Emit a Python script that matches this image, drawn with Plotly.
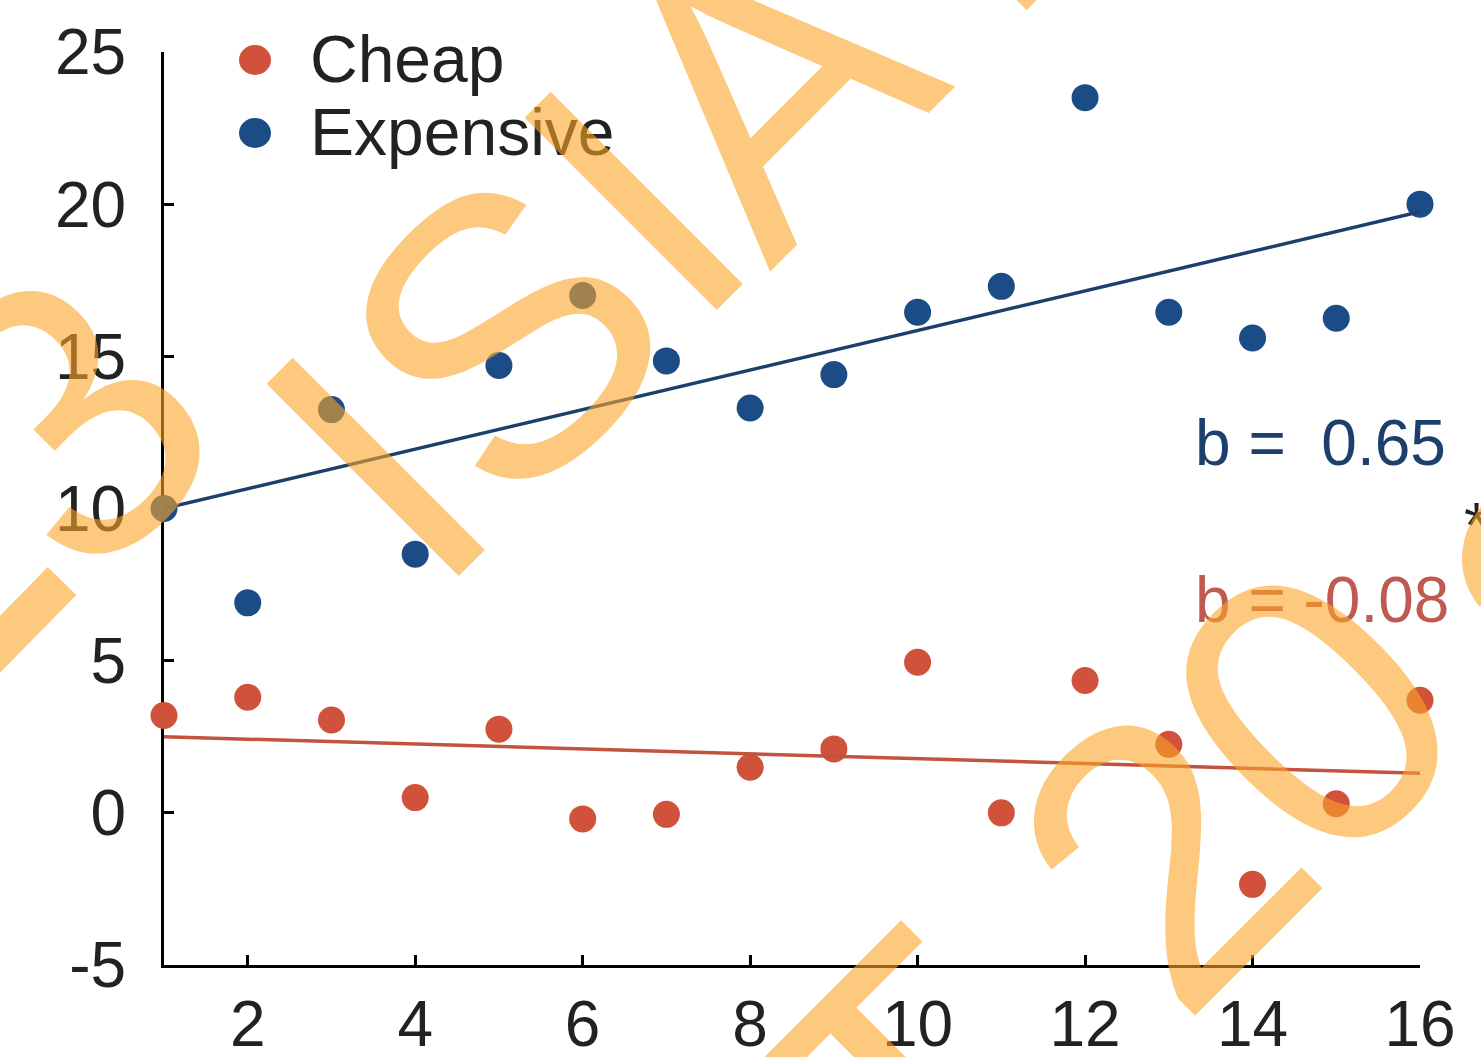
import plotly.graph_objects as go

# ---- data -------------------------------------------------------------
days = list(range(1, 17))
expensive = [10.0, 6.9, 13.25, 8.5, 14.7, 17.0, 14.85, 13.3, 14.4, 16.45,
             17.3, 23.5, 16.45, 15.6, 16.25, 20.0]
cheap = [3.2, 3.8, 3.05, 0.5, 2.75, -0.2, -0.05, 1.5, 2.1, 4.95,
         0.0, 4.35, 2.25, -2.35, 0.3, 3.7]

# fitted lines: value at the first day and slope b
exp_start, exp_slope = 10.0, 0.65
chp_start, chp_slope = 2.5, -0.08

x_ticks = [2, 4, 6, 8, 10, 12, 14, 16]
y_ticks = [-5, 0, 5, 10, 15, 20, 25]

BLUE = "#1c4c86"
BLUE_LINE = "#1d3f6c"
RED = "#d0523b"
RED_LINE = "#c2533f"
RED_TEXT = "#c05a50"
FONT = "Liberation Sans"

# ---- geometry helpers for paper-anchored decorations -----------------
W, H = 1481, 1057
ML, MR, MT, MB = 164, 61, 52, 92
PW, PH = W - ML - MR, H - MT - MB


def px(xp):
    return (xp - ML) / PW


def py(yp):
    return (H - MB - yp) / PH


fig = go.Figure()

fig.add_trace(go.Scatter(
    x=days, y=cheap, mode="markers", name="Cheap",
    marker=dict(color=RED, size=27), cliponaxis=False))
fig.add_trace(go.Scatter(
    x=days, y=expensive, mode="markers", name="Expensive",
    marker=dict(color=BLUE, size=27), cliponaxis=False))

x0, x1 = days[0], days[-1]
fig.add_trace(go.Scatter(
    x=[x0, x1], y=[exp_start, exp_start + exp_slope * (x1 - x0)],
    mode="lines", line=dict(color=BLUE_LINE, width=3.5),
    showlegend=False, cliponaxis=False))
fig.add_trace(go.Scatter(
    x=[x0, x1], y=[chp_start, chp_start + chp_slope * (x1 - x0)],
    mode="lines", line=dict(color=RED_LINE, width=3.5),
    showlegend=False, cliponaxis=False))

annotations = []
shapes = []

# legend drawn by hand so the rows sit close together
for name, color, yc in [("Cheap", RED, 60), ("Expensive", BLUE, 133)]:
    shapes.append(dict(type="circle", xref="paper", yref="paper",
                       x0=px(255 - 16), x1=px(255 + 16),
                       y0=py(yc + 15), y1=py(yc - 15),
                       fillcolor=color, line=dict(width=0)))
    annotations.append(dict(xref="paper", yref="paper", x=px(308), y=py(yc - 1),
                            xanchor="left", yanchor="middle", showarrow=False,
                            text=name, font=dict(family=FONT, size=66, color="#222222")))

# slope labels
annotations.append(dict(xref="paper", yref="paper", x=px(1193), y=py(443),
                        xanchor="left", yanchor="middle", showarrow=False,
                        text=f"b =  {exp_slope:.2f}",
                        font=dict(family=FONT, size=64, color=BLUE_LINE)))
annotations.append(dict(xref="paper", yref="paper", x=px(1476), y=py(526),
                        xanchor="center", yanchor="middle", showarrow=False,
                        text="*", font=dict(family=FONT, size=64, color="#222222")))
annotations.append(dict(xref="paper", yref="paper", x=px(1193), y=py(600),
                        xanchor="left", yanchor="middle", showarrow=False,
                        text=f"b = {chp_slope:.2f}",
                        font=dict(family=FONT, size=64, color=RED_TEXT)))

# diagonal watermark, one glyph at a time
WM = "rgba(250,165,40,0.6)"
glyphs = [("3", 66, 420), ("I", 375, 466), ("S", 504, 335), ("I", 633, 200),
          ("A", 766, 82), ("T", 943, -100),
          ("T", 917, 1095), ("2", 1162, 855), ("0", 1312, 711), ("2", 1590, 592)]
for ch, gx, gy in glyphs:
    annotations.append(dict(xref="paper", yref="paper", x=px(gx), y=py(gy),
                            xanchor="center", yanchor="middle", showarrow=False,
                            text=ch, textangle=-45,
                            font=dict(family=FONT, size=395, color=WM)))
shapes.append(dict(type="line", xref="paper", yref="paper",
                   x0=px(62), y0=py(581), x1=px(-40), y1=py(685),
                   line=dict(color=WM, width=40), layer="above"))

fig.update_layout(
    width=W, height=H,
    margin=dict(l=ML, r=MR, t=MT, b=MB),
    paper_bgcolor="white", plot_bgcolor="white",
    showlegend=False,
    font=dict(family=FONT, color="#222222"),
    annotations=annotations, shapes=shapes,
)
fig.update_xaxes(
    range=[1, 16], tickvals=x_ticks, ticktext=[str(v) for v in x_ticks],
    ticks="inside", ticklen=10, tickwidth=3,
    tickcolor="black", showline=True, linecolor="black", linewidth=3,
    showgrid=False, zeroline=False, ticklabelstandoff=1, automargin=False,
    tickfont=dict(family=FONT, size=64, color="#222222"), layer="below traces")
fig.update_yaxes(
    range=[-5, 25], tickvals=y_ticks, ticktext=[str(v) for v in y_ticks],
    ticks="inside", ticklen=10, tickwidth=3,
    tickcolor="black", showline=True, linecolor="black", linewidth=3,
    showgrid=False, zeroline=False, ticklabelstandoff=22, automargin=False,
    tickfont=dict(family=FONT, size=64, color="#222222"), layer="below traces")

fig.write_html("out.html")
